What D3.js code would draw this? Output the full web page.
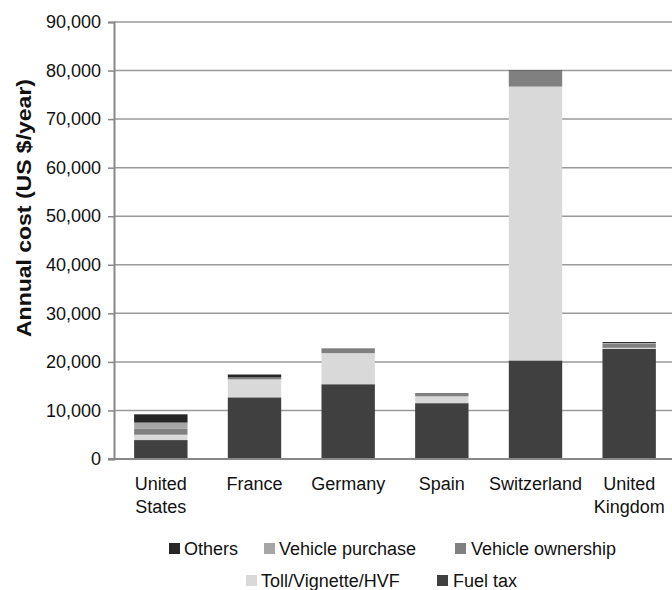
<!DOCTYPE html>
<html>
<head>
<meta charset="utf-8">
<script src="https://cdn.jsdelivr.net/npm/d3@7"></script>
<style>
  html, body { margin: 0; padding: 0; background: #fff; }
  svg { display: block; font-family: "Liberation Sans", Arial, sans-serif; }
</style>
</head>
<body>
<svg id="chart" width="672" height="590"></svg>
<script>
// Annual road cost for a heavy truck, by country and component (US $/year)
const countries = ["United States", "France", "Germany", "Spain", "Switzerland", "United Kingdom"];
const countryLines = [["United", "States"], ["France"], ["Germany"], ["Spain"], ["Switzerland"], ["United", "Kingdom"]];

// Stack order, bottom to top
const seriesNames = ["Fuel tax", "Toll/Vignette/HVF", "Vehicle ownership", "Vehicle purchase", "Others"];
const fuelTax          = [3900, 12700, 15400, 11500, 20300, 22700];
const tollVignetteHVF  = [1100,  3700,  6400,  1400, 56400,   200];
const vehicleOwnership = [1200,   400,  1000,   700,  3200,   900];
const vehiclePurchase  = [1300,     0,     0,     0,     0,   100];
const others           = [1700,   600,     0,     0,   100,   200];

const yTicks = [0, 10000, 20000, 30000, 40000, 50000, 60000, 70000, 80000, 90000];

// Legend layout: two rows, in reading order
const legendRows = [["Others", "Vehicle purchase", "Vehicle ownership"], ["Toll/Vignette/HVF", "Fuel tax"]];

const colors = {
  "Fuel tax": "#404040",
  "Toll/Vignette/HVF": "#d9d9d9",
  "Vehicle ownership": "#808080",
  "Vehicle purchase": "#a6a6a6",
  "Others": "#262626"
};

const rows = countries.map((c, i) => ({
  country: c,
  "Fuel tax": fuelTax[i],
  "Toll/Vignette/HVF": tollVignetteHVF[i],
  "Vehicle ownership": vehicleOwnership[i],
  "Vehicle purchase": vehiclePurchase[i],
  "Others": others[i]
}));

const svg = d3.select("#chart");
const plot = { left: 114, right: 676, top: 22, bottom: 459 };

const x = d3.scaleBand().domain(countries).range([plot.left, plot.right])
  .paddingInner(0.43).paddingOuter(0.215);
const y = d3.scaleLinear().domain([0, 90000]).range([plot.bottom, plot.top]);

// Horizontal gridlines
svg.append("g").selectAll("line").data(yTicks.filter(t => t > 0)).join("line")
  .attr("x1", plot.left).attr("x2", 672)
  .attr("y1", d => y(d)).attr("y2", d => y(d))
  .attr("stroke", "#9a9a9a").attr("stroke-width", 1.5);

// Stacked bars
const stack = d3.stack().keys(seriesNames)(rows);
svg.append("g").selectAll("g").data(stack).join("g")
  .attr("fill", d => colors[d.key])
  .selectAll("rect").data(d => d).join("rect")
  .attr("x", d => x(d.data.country))
  .attr("width", x.bandwidth())
  .attr("y", d => y(d[1]))
  .attr("height", d => y(d[0]) - y(d[1]));

// Y axis
const yAxis = svg.append("g").attr("transform", `translate(${plot.left},0)`)
  .call(d3.axisLeft(y).tickValues(yTicks).tickFormat(d3.format(",")).tickSize(6).tickPadding(7));
yAxis.select(".domain").attr("stroke", "#888").attr("stroke-width", 2);
yAxis.selectAll(".tick line").attr("stroke", "#888").attr("stroke-width", 1.5);
yAxis.selectAll(".tick text").attr("font-size", 18).attr("fill", "#111")
  .attr("font-family", "Liberation Sans, Arial, sans-serif");

// X baseline
svg.append("line")
  .attr("x1", plot.left - 6).attr("x2", 672)
  .attr("y1", y(0)).attr("y2", y(0))
  .attr("stroke", "#888").attr("stroke-width", 2);

// Category labels
const catG = svg.append("g").attr("font-size", 18).attr("fill", "#111").attr("text-anchor", "middle");
countries.forEach((c, i) => {
  const cx = x(c) + x.bandwidth() / 2;
  const t = catG.append("text").attr("x", cx).attr("y", 490);
  countryLines[i].forEach((line, j) => {
    t.append("tspan").attr("x", cx).attr("dy", j === 0 ? 0 : 23).text(line);
  });
});

// Y axis title
svg.append("text")
  .attr("transform", "translate(31,208) rotate(-90)")
  .attr("text-anchor", "middle")
  .attr("font-size", 20).attr("font-weight", "bold").attr("fill", "#111")
  .attr("textLength", 258).attr("lengthAdjust", "spacingAndGlyphs")
  .text("Annual cost (US $/year)");

// Legend
const legendPos = [
  [{ sx: 169, tx: 184 }, { sx: 264, tx: 279 }, { sx: 455, tx: 471 }],
  [{ sx: 246, tx: 261 }, { sx: 437, tx: 453 }]
];
const legendY = [548, 580];
const lg = svg.append("g").attr("font-size", 18).attr("fill", "#111");
legendRows.forEach((row, r) => {
  row.forEach((name, k) => {
    const p = legendPos[r][k];
    lg.append("rect").attr("x", p.sx).attr("y", legendY[r] - 5).attr("width", 11).attr("height", 11)
      .attr("fill", colors[name]);
    lg.append("text").attr("x", p.tx).attr("y", legendY[r] + 6.5).text(name);
  });
});
</script>
</body>
</html>
